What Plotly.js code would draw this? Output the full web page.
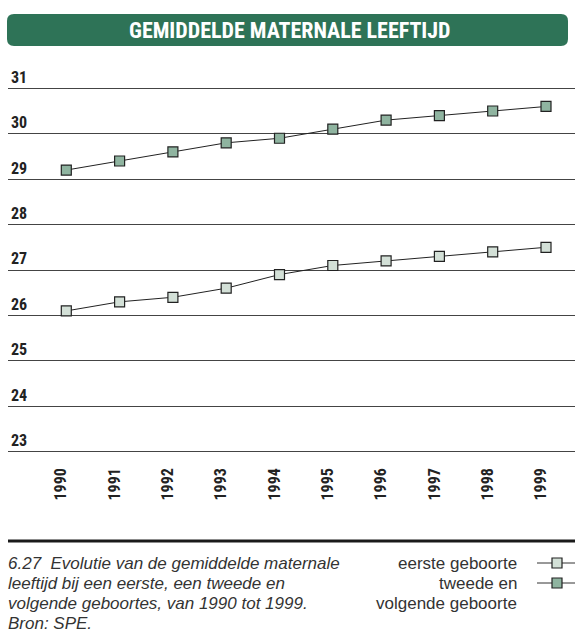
<!DOCTYPE html>
<html>
<head>
<meta charset="utf-8">
<script src="https://cdn.plot.ly/plotly-3.0.1.min.js"></script>
<style>html,body{margin:0;padding:0;background:#fff;}#chart{width:575px;height:641px;}</style>
</head>
<body>
<div id="chart"></div>
<script>
// ---- data ----
var years = [1990, 1991, 1992, 1993, 1994, 1995, 1996, 1997, 1998, 1999];
var yearLabels = ['1990','1991','1992','1993','1994','1995','1996','1997','1998','1999'];
var eersteGeboorte = [26.1, 26.3, 26.4, 26.6, 26.9, 27.1, 27.2, 27.3, 27.4, 27.5];
var tweedeEnVolgende = [29.2, 29.4, 29.6, 29.8, 29.9, 30.1, 30.3, 30.4, 30.5, 30.6];
var yTicks = [23, 24, 25, 26, 27, 28, 29, 30, 31];
var titleText = 'GEMIDDELDE MATERNALE LEEFTIJD';
var seriesNames = ['eerste geboorte', 'tweede en', 'volgende geboorte'];
var captionLines = ['6.27  Evolutie van de gemiddelde maternale',
                    'leeftijd bij een eerste, een tweede en',
                    'volgende geboortes, van 1990 tot 1999.',
                    'Bron: SPE.'];

// ---- layout helpers (pixel -> paper) ----
var W = 575, H = 641, ML = 8, MR = 0, MT = 60, MB = 185;
var PW = W - ML - MR, PH = H - MT - MB;
function px(x){ return (x - ML) / PW; }
function py(y){ return (H - MB - y) / PH; }

var narrow = '"Roboto Condensed", Roboto, "Liberation Sans Narrow", sans-serif';
var sans = '"Liberation Sans", Arial, Helvetica, sans-serif';

function roundRect(x0, y0, x1, y1, r){
  return 'M ' + px(x0 + r) + ',' + py(y0) +
    ' L ' + px(x1 - r) + ',' + py(y0) +
    ' Q ' + px(x1) + ',' + py(y0) + ' ' + px(x1) + ',' + py(y0 + r) +
    ' L ' + px(x1) + ',' + py(y1 - r) +
    ' Q ' + px(x1) + ',' + py(y1) + ' ' + px(x1 - r) + ',' + py(y1) +
    ' L ' + px(x0 + r) + ',' + py(y1) +
    ' Q ' + px(x0) + ',' + py(y1) + ' ' + px(x0) + ',' + py(y1 - r) +
    ' L ' + px(x0) + ',' + py(y0 + r) +
    ' Q ' + px(x0) + ',' + py(y0) + ' ' + px(x0 + r) + ',' + py(y0) + ' Z';
}

var lightFill = '#d3e0d7', darkFill = '#8fb4a0', edge = '#222';

var traces = [
  { x: years, y: eersteGeboorte, type: 'scatter', mode: 'lines+markers', name: seriesNames[0],
    line: {color: '#222', width: 1},
    marker: {symbol: 'square', size: 10, color: lightFill, line: {color: edge, width: 1.2}},
    showlegend: false, hoverinfo: 'x+y' },
  { x: years, y: tweedeEnVolgende, type: 'scatter', mode: 'lines+markers', name: seriesNames[1] + ' ' + seriesNames[2],
    line: {color: '#222', width: 1},
    marker: {symbol: 'square', size: 10, color: darkFill, line: {color: edge, width: 1.2}},
    showlegend: false, hoverinfo: 'x+y' }
];

var shapes = [
  {type: 'path', xref: 'paper', yref: 'paper', path: roundRect(7, 14, 568, 46, 7),
   fillcolor: '#2e7357', line: {width: 0}, layer: 'below'},
  {type: 'line', xref: 'paper', yref: 'paper', x0: px(8), x1: px(575), y0: py(541), y1: py(541),
   line: {color: '#1a1a1a', width: 3}},
  // legend symbols
  {type: 'line', xref: 'paper', yref: 'paper', x0: px(537), x1: px(575), y0: py(563), y1: py(563),
   line: {color: '#333', width: 1}},
  {type: 'rect', xref: 'paper', yref: 'paper', x0: px(552), x1: px(562), y0: py(558), y1: py(568),
   fillcolor: lightFill, line: {color: edge, width: 1.2}},
  {type: 'line', xref: 'paper', yref: 'paper', x0: px(537), x1: px(575), y0: py(583), y1: py(583),
   line: {color: '#333', width: 1}},
  {type: 'rect', xref: 'paper', yref: 'paper', x0: px(552), x1: px(562), y0: py(578), y1: py(588),
   fillcolor: darkFill, line: {color: edge, width: 1.2}}
];

var annotations = [
  {xref: 'paper', yref: 'paper', x: px(290), y: py(31), xanchor: 'center', yanchor: 'middle',
   text: '<b>' + titleText + '</b>', showarrow: false,
   font: {family: narrow, size: 22, color: '#ffffff'}}
];
var legendY = [563, 583, 603];
for (var i = 0; i < seriesNames.length; i++) {
  annotations.push({xref: 'paper', yref: 'paper', x: px(519), y: py(legendY[i]), xanchor: 'right', yanchor: 'middle',
    text: seriesNames[i], showarrow: false, font: {family: sans, size: 17, color: '#333'}});
}
var capY = [563, 583, 603, 623];
for (var j = 0; j < captionLines.length; j++) {
  annotations.push({xref: 'paper', yref: 'paper', x: px(6), y: py(capY[j]), xanchor: 'left', yanchor: 'middle',
    text: captionLines[j], showarrow: false, font: {family: sans, size: 17, color: '#333', style: 'italic'}});
}

var layout = {
  width: W, height: H,
  margin: {l: ML, r: MR, t: MT, b: MB, pad: 0},
  paper_bgcolor: '#ffffff', plot_bgcolor: '#ffffff',
  showlegend: false,
  xaxis: {
    range: [1990 - 58.3/53.3, 1999 + 29/53.3],
    tickvals: years, ticktext: yearLabels, tickangle: -90,
    showgrid: false, zeroline: false, showline: false, ticks: '',
    ticklabelstandoff: 8, ticklabelshift: -5,
    tickfont: {family: narrow, size: 16, color: '#222', weight: 'bold'}
  },
  yaxis: {
    range: [31 + 28.3/45.43 - PH/45.43, 31 + 28.3/45.43],
    tickvals: yTicks, ticktext: yTicks.map(String),
    ticklabelposition: 'inside top',
    showgrid: true, gridcolor: '#444', gridwidth: 1,
    zeroline: false, showline: false, ticks: '',
    tickfont: {family: narrow, size: 16, color: '#222', weight: 'bold'}
  },
  shapes: shapes,
  annotations: annotations
};

Plotly.newPlot('chart', traces, layout, {staticPlot: true, displayModeBar: false});
</script>
</body>
</html>
